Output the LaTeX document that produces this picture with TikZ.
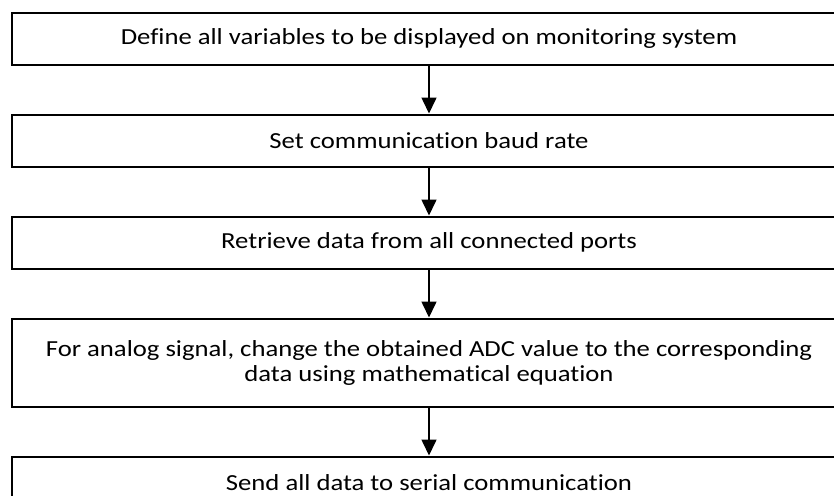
\documentclass[tikz,border=0pt]{standalone}
\usepackage{fontspec}
\setmainfont{Carlito}[FakeStretch=1.16,Ligatures=NoCommon,RawFeature={-liga;-clig;-calt}]
\usetikzlibrary{positioning,arrows.meta}
\begin{document}
\begin{tikzpicture}
\tikzset{stage/.style={draw,line width=1pt,
                       minimum width=417pt,
                       minimum height=26pt,
                       inner sep=0pt,
                       align=center,
                       font=\fontsize{11.5}{12.5}\selectfont},
         flow/.style={-{Triangle[width=7.5pt,length=8pt]},line width=0.8pt}
}
\clip (0,0) rectangle (417pt,247.5pt);
\node[stage] (def) at (214.5pt,228.25pt) {Define all variables to be displayed on monitoring system};
\node[stage,below=24pt of def]  (baud) {Set communication baud rate};
\node[stage,below=24pt of baud] (ret)  {Retrieve data from all connected ports};
\node[stage,below=24pt of ret,minimum height=44pt] (adc)
      {For analog signal, change the obtained ADC value to the corresponding\\
       data using mathematical equation};
\node[stage,below=24pt of adc]  (send) {Send all data to serial communication};
\draw[flow] (def)  -- (baud);
\draw[flow] (baud) -- (ret);
\draw[flow] (ret)  -- (adc);
\draw[flow] (adc)  -- (send);
\end{tikzpicture}
\end{document}
